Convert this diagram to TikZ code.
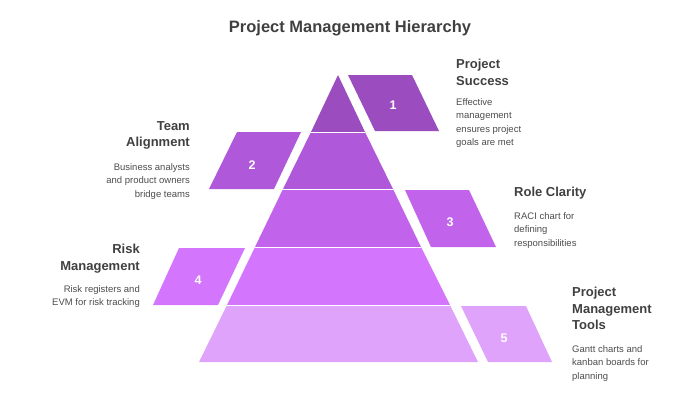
\documentclass[tikz,border=0pt]{standalone}
\usepackage{fontspec}
\setmainfont{Liberation Sans}
\begin{document}
\begin{tikzpicture}[x=1pt,y=-1pt,
  num/.style={text=white,font=\fontsize{12.5}{14}\selectfont\bfseries},
  head/.style={text=black!75,font=\fontsize{13}{16.5}\selectfont\bfseries,inner sep=0pt},
  body/.style={text=black!70,font=\fontsize{9.5}{13.5}\selectfont,inner sep=0pt}]
\useasboundingbox (0,0) rectangle (700,400);
\definecolor{c1}{HTML}{9B4DBF}\definecolor{c2}{HTML}{AF59DA}
\definecolor{c3}{HTML}{C263EC}\definecolor{c4}{HTML}{D475FD}\definecolor{c5}{HTML}{E0A3FB}
\node[text=black!75,font=\fontsize{16.5}{20}\selectfont\bfseries] (title) at (350,28) {Project Management Hierarchy};
% pyramid levels
\fill[c1] (338,75) -- (365,132) -- (311,132) -- cycle;
\fill[c2] (311,132) -- (365,132) -- (393,189) -- (283,189) -- cycle;
\fill[c3] (283,189) -- (393,189) -- (421,247) -- (255,247) -- cycle;
\fill[c4] (255,247) -- (421,247) -- (450,305) -- (227,305) -- cycle;
\fill[c5] (227,305) -- (450,305) -- (478,362) -- (199,362) -- cycle;
\draw[white,line width=1pt] (311,132)--(365,132) (283,189)--(393,189) (255,247)--(421,247) (227,305)--(450,305);
% boxes
\fill[c1] (348,75) -- (412,75) -- (439,131) -- (375,131) -- cycle;
\node[num] (n1) at (393,105) {1};
\fill[c2] (237,132) -- (301,132) -- (274,189) -- (209,189) -- cycle;
\node[num] (n2) at (252,165) {2};
\fill[c3] (405,190) -- (469,190) -- (496,247) -- (431,247) -- cycle;
\node[num] (n3) at (450,222) {3};
\fill[c4] (179,248) -- (245,248) -- (218,305) -- (153,305) -- cycle;
\node[num] (n4) at (198,280) {4};
\fill[c5] (461,306) -- (526,306) -- (552,362) -- (488,362) -- cycle;
\node[num] (n5) at (504,338) {5};
% texts
\node[head,anchor=north west,align=left] (h1) at (456,59) {Project\\Success};
\node[body,anchor=north west,align=left] (b1) at (456,98) {Effective\\management\\ensures project\\goals are met};
\node[head,anchor=north east,align=right] (h2) at (190,121) {Team\\Alignment};
\node[body,anchor=north east,align=right] (b2) at (190,163) {Business analysts\\and product owners\\bridge teams};
\node[head,anchor=north west,align=left] (h3) at (514,187) {Role Clarity};
\node[body,anchor=north west,align=left] (b3) at (514,212) {RACI chart for\\defining\\responsibilities};
\node[head,anchor=north east,align=right] (h4) at (140,244) {Risk\\Management};
\node[body,anchor=north east,align=right] (b4) at (140,285) {Risk registers and\\EVM for risk tracking};
\node[head,anchor=north west,align=left] (h5) at (572,287) {Project\\Management\\Tools};
\node[body,anchor=north west,align=left] (b5) at (572,345) {Gantt charts and\\kanban boards for\\planning};
\end{tikzpicture}
\end{document}
